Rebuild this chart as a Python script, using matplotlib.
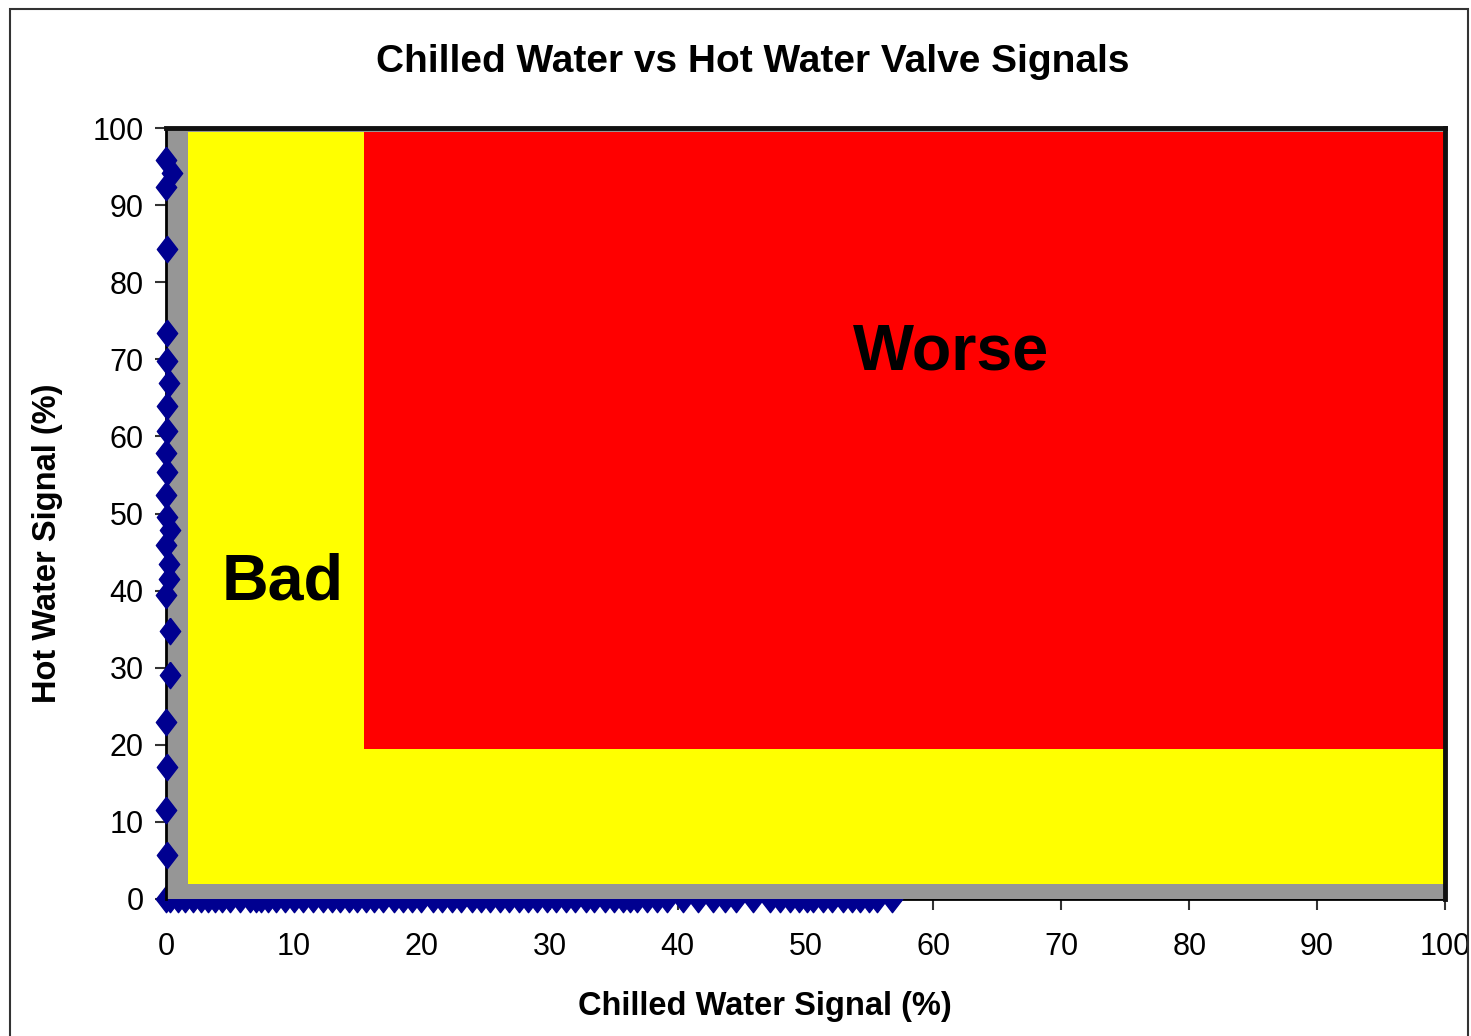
import matplotlib
matplotlib.use('Agg')
import numpy as np
from matplotlib import pyplot as plt
from matplotlib.patches import Rectangle

plt.rcParams['font.family'] = ['Liberation Sans', 'DejaVu Sans']

# points sitting on the hot water axis (chilled ~ 0)
hw_x = [0.0, 0.45, 0.0, 0.1, 0.1, 0.05, 0.2, 0.05, 0.05, 0.0, 0.1, 0.0, 0.1,
        0.3, 0.0, 0.2, 0.2, 0.0, 0.3, 0.3, 0.0, 0.05, 0.0, 0.05]
hw_y = [95.9, 94.1, 92.4, 84.3, 73.4, 69.8, 66.9, 63.9, 60.7, 57.8, 55.4, 52.4, 49.6,
        47.9, 45.9, 43.5, 41.5, 39.4, 34.7, 29.1, 23.0, 17.1, 11.6, 5.7]

# points sitting on the chilled water axis (hot ~ 0)
cw_x = [0.0, 0.3, 0.9, 1.5, 2.1, 2.7, 3.3, 3.8, 4.4, 5.0, 5.8, 6.6, 7.0, 7.4, 8.0,
        8.6, 9.3, 10.0, 10.7, 11.5, 12.3, 13.0, 13.6, 14.3, 14.9, 15.6, 16.3, 17.0,
        17.8, 18.5, 19.2, 19.9, 20.9, 21.6, 22.4, 23.1, 23.9, 24.6, 25.3, 26.1, 26.8,
        27.6, 28.3, 29.0, 29.8, 30.5, 31.3, 32.0, 32.8, 33.5, 34.3, 35.0, 35.7, 36.3,
        36.8, 37.6, 38.4, 39.2, 40.4, 41.6, 42.8, 43.7, 44.6, 45.9, 47.2, 48.0, 48.8,
        49.5, 50.1, 50.6, 51.4, 52.1, 52.9, 53.6, 54.3, 55.0, 55.6, 56.8]
cw_y = [0.0] * len(cw_x)

# zone limits (%)
bad_zone = [1.7, 2.0, 100.0, 99.5]      # x0, y0, x1, y1
worse_zone = [15.5, 19.5, 100.0, 99.5]

ticks = [0, 10, 20, 30, 40, 50, 60, 70, 80, 90, 100]

# excel style diamond, a bit taller than wide
diamond = [(0, 1), (0.77, 0), (0, -1), (-0.77, 0), (0, 1)]

fig = plt.figure(figsize=(14.71, 10.36), dpi=100)
ax = fig.add_axes([166 / 1471, 1 - 899 / 1036, 1279 / 1471, 771 / 1036])
ax.set_facecolor('white')

ax.add_patch(Rectangle((0, 0), 100, 100, facecolor='#969696', edgecolor='none', zorder=2.7))
ax.add_patch(Rectangle((bad_zone[0], bad_zone[1]), bad_zone[2] - bad_zone[0],
                       bad_zone[3] - bad_zone[1], facecolor='#FFFF00', edgecolor='none', zorder=2.8))
ax.add_patch(Rectangle((worse_zone[0], worse_zone[1]), worse_zone[2] - worse_zone[0],
                       worse_zone[3] - worse_zone[1], facecolor='#FF0000', edgecolor='none', zorder=2.9))

ax.plot(cw_x, cw_y, linestyle='none', marker=diamond, markersize=19,
        color='#000090', clip_on=False, zorder=2.6)
ax.plot(hw_x, hw_y, linestyle='none', marker=diamond, markersize=19,
        color='#000090', clip_on=False, zorder=4)

ax.text(9.15, 41.1, 'Bad', fontsize=46.5, fontweight='bold', ha='center', va='center', zorder=5)
ax.text(61.4, 70.9, 'Worse', fontsize=46.5, fontweight='bold', ha='center', va='center', zorder=5)

ax.set_xlim(0, 100)
ax.set_ylim(0, 100)
ax.set_xticks(ticks)
ax.set_yticks(ticks)
ax.tick_params(direction='out', length=8, width=1.5, color='#333333', labelsize=22)
ax.tick_params(axis='x', pad=16)
ax.tick_params(axis='y', pad=8)

for s in ['left', 'bottom']:
    ax.spines[s].set_linewidth(2)
    ax.spines[s].set_color('black')
for s in ['top', 'right']:
    ax.spines[s].set_linewidth(3.5)
    ax.spines[s].set_color('#111111')
    ax.spines[s].set_zorder(3.5)
ax.spines['left'].set_zorder(3.5)

fig.text(753 / 1471, 1 - 62 / 1036, 'Chilled Water vs Hot Water Valve Signals',
         fontsize=28, fontweight='bold', ha='center', va='center')
fig.text(765 / 1471, 1 - 1006 / 1036, 'Chilled Water Signal (%)',
         fontsize=23.5, fontweight='bold', ha='center', va='center')
fig.text(48 / 1471, 1 - 543 / 1036, 'Hot Water Signal (%)', rotation=90,
         fontsize=23.5, fontweight='bold', ha='center', va='center')

# chart area border
fig.add_artist(Rectangle((10 / 1471, -0.02), 1458 / 1471, 1.02 - 9 / 1036,
                         transform=fig.transFigure, fill=False, edgecolor='#333333', linewidth=1.5))

fig.savefig('out.png', dpi=100)
